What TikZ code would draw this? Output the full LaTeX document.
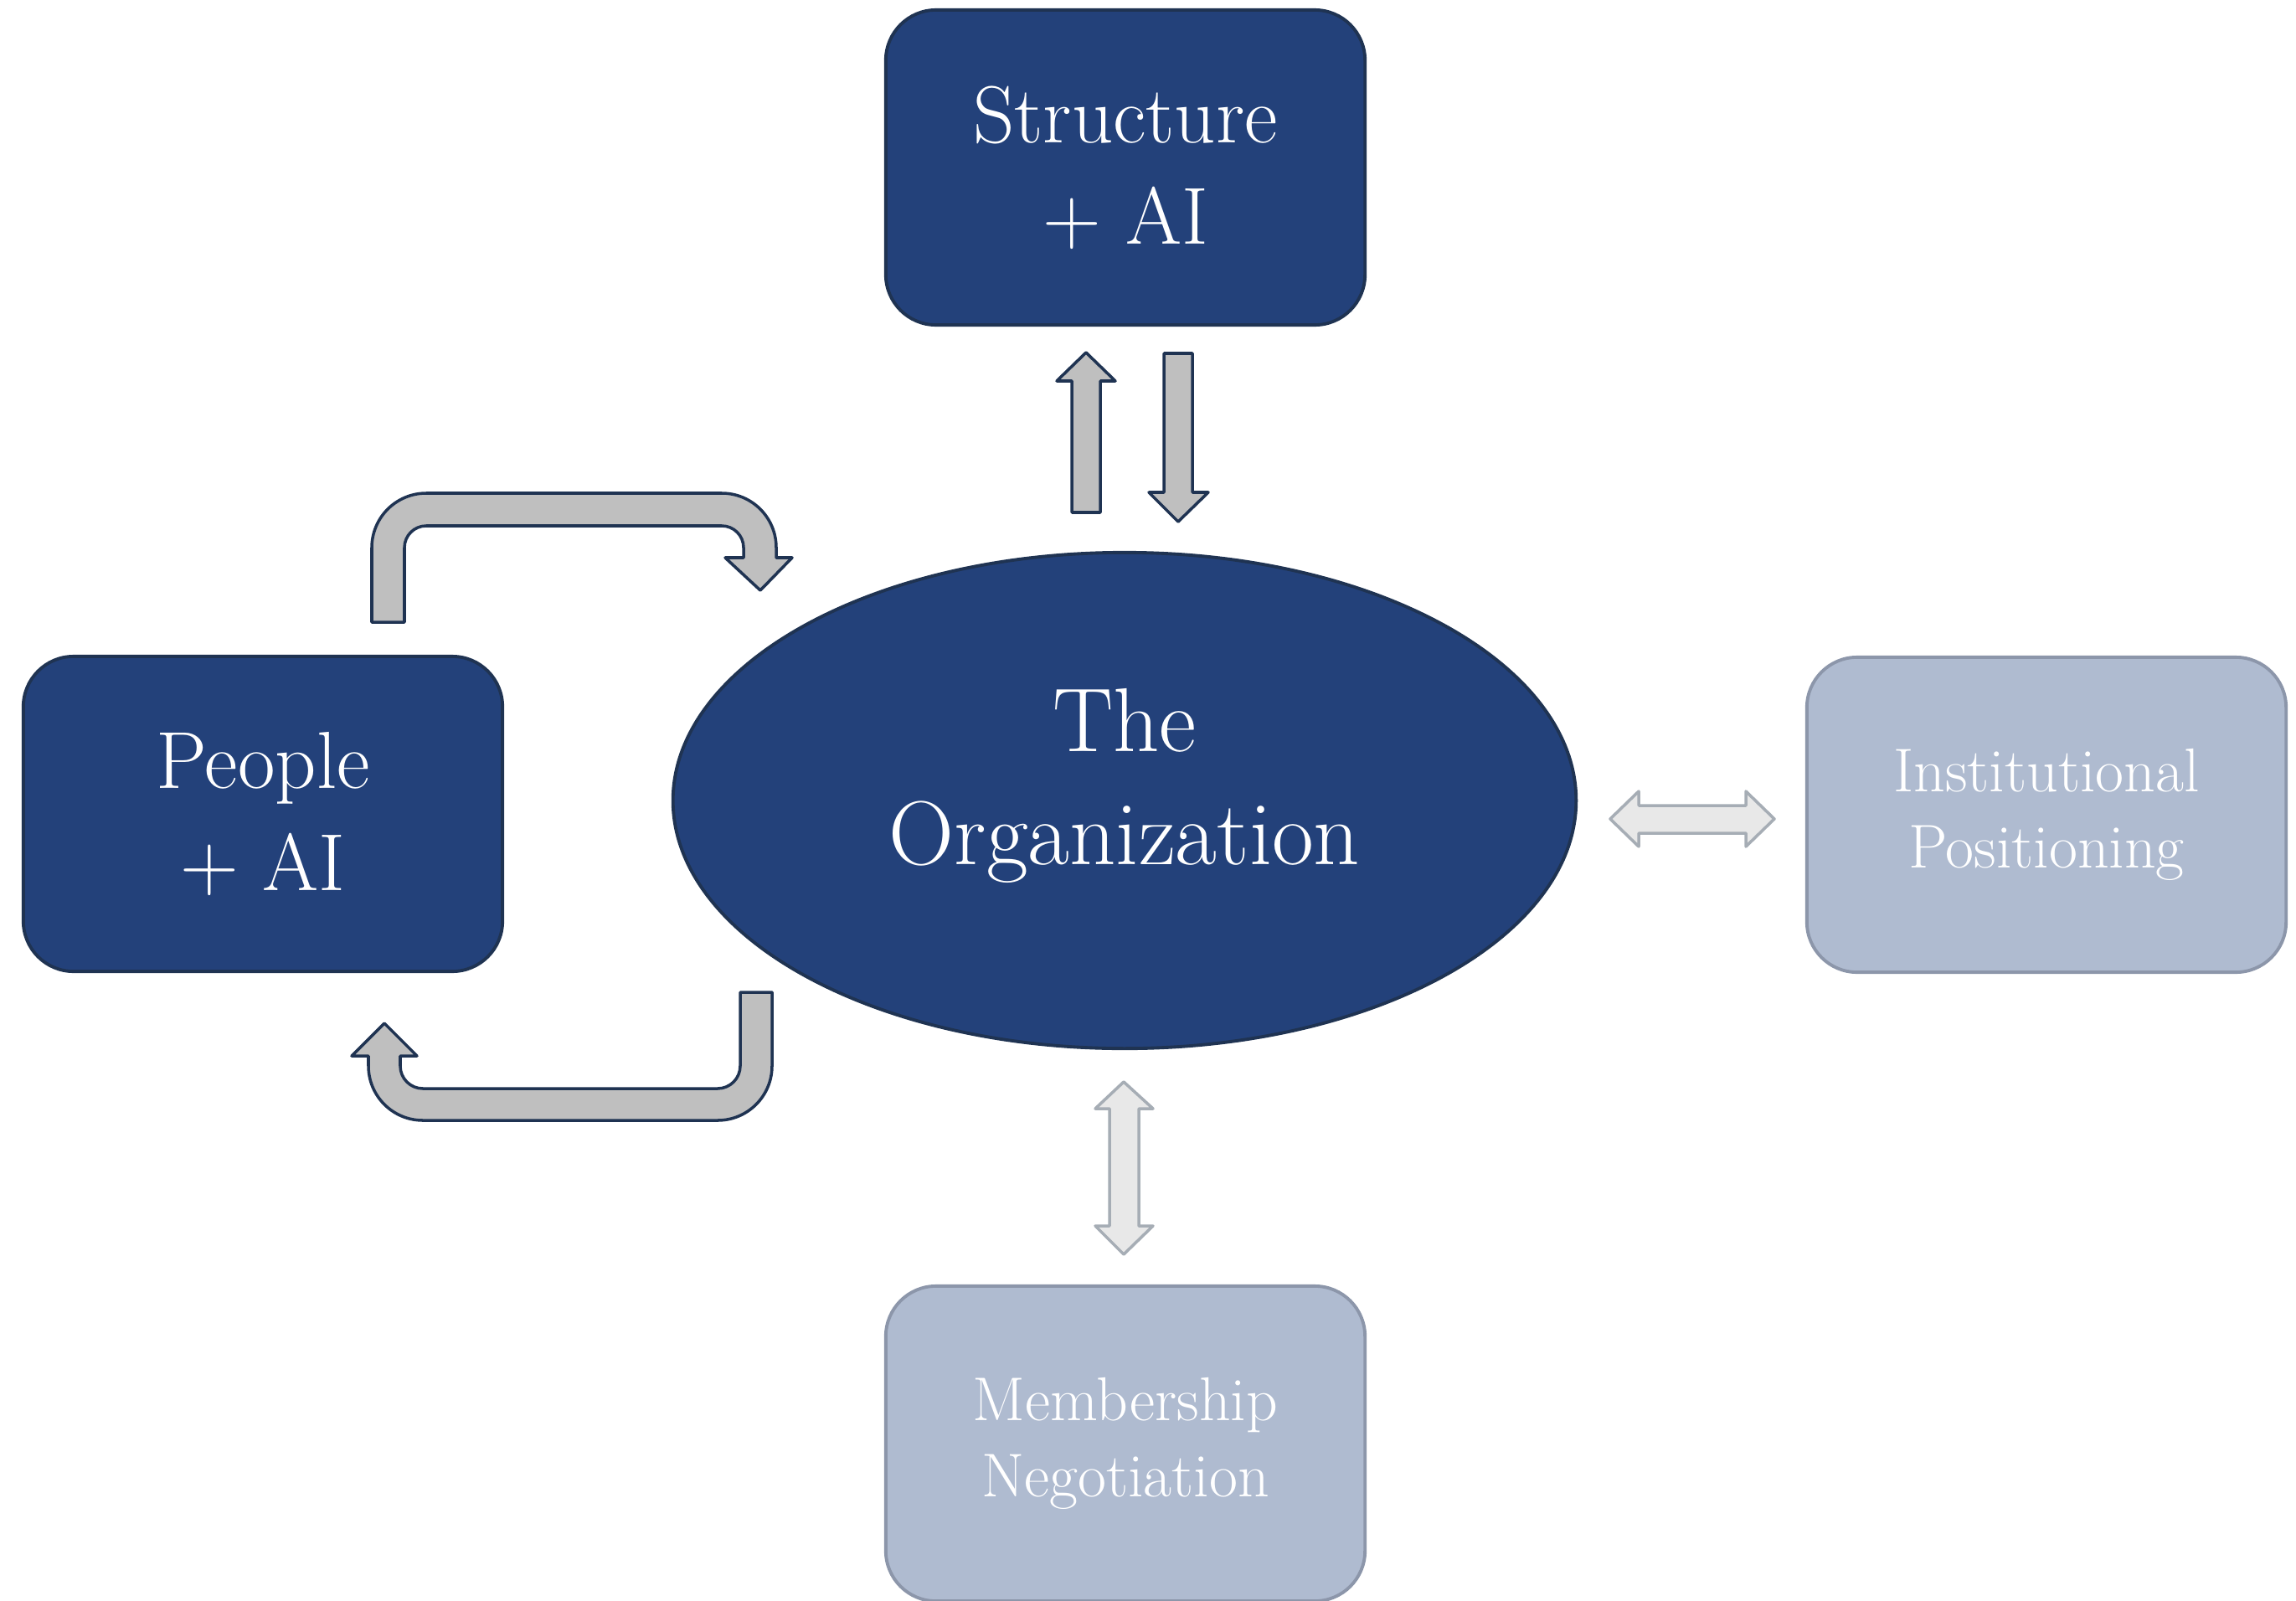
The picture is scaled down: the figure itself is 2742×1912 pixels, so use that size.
\documentclass[tikz,border=0pt]{standalone}
\usepackage{tikz}
\usetikzlibrary{shapes.geometric}
\definecolor{navy}{RGB}{35,65,122}
\definecolor{navyline}{RGB}{31,51,82}
\definecolor{paleblue}{RGB}{175,187,208}
\definecolor{palebluel}{RGB}{140,150,170}
\definecolor{arrowgray}{RGB}{191,191,191}
\definecolor{softgray}{RGB}{232,232,232}
\definecolor{softline}{RGB}{166,173,181}

\begin{document}
\begin{tikzpicture}[x=0.01cm,y=0.01cm,
  darkbox/.style={draw=navyline,fill=navy,line width=1.1pt,rounded corners=0.6cm,
    minimum width=5.72cm,minimum height=3.76cm,text=white,align=center,
    font=\fontsize{27.5}{34.5}\selectfont},
  palebox/.style={draw=palebluel,fill=paleblue,line width=1.1pt,rounded corners=0.6cm,
    minimum width=5.72cm,minimum height=3.76cm,text=white,align=center,
    font=\fontsize{21}{26}\selectfont},
  blockarrow/.style={draw=navyline,fill=arrowgray,line width=1pt,line join=round},
  softarrow/.style={draw=softline,fill=softgray,line width=1pt,line join=round}]
\useasboundingbox (0,0) rectangle (2742,-1912);
% nodes
\node[ellipse,draw=navyline,fill=navy,line width=1.1pt,inner sep=0pt,
  minimum width=10.78cm,minimum height=5.92cm,text=white,align=center,text depth=16pt,
  font=\fontsize{30.8}{38.4}\selectfont] (org) at (1343,-956) {The\\Organization};
\node[darkbox] (struct) at (1344,-200) {Structure\\+ AI};
\node[darkbox] (people) at (314,-972) {People\\+ AI};
\node[palebox] (inst) at (2444,-973) {Institutional\\Positioning};
\node[palebox] (member) at (1344,-1724) {Membership\\Negotiation};
% structure <-> organization
\draw[blockarrow] (1280,-612) -- (1280,-455) -- (1262,-455) -- (1297,-421) -- (1332,-455)
  -- (1314,-455) -- (1314,-612) -- cycle;
\draw[blockarrow] (1390,-422) -- (1424,-422) -- (1424,-588) -- (1443,-588) -- (1407,-623)
  -- (1372,-588) -- (1390,-588) -- cycle;
% people -> organization (top loop)
\draw[blockarrow] (444,-743) -- (444,-654) arc[start angle=180,end angle=90,radius=65]
  -- (862,-589) arc[start angle=90,end angle=0,radius=65]
  -- (927,-666) -- (946,-666) -- (908,-705) -- (866,-666) -- (888,-666)
  -- (888,-654) arc[start angle=0,end angle=90,radius=26]
  -- (509,-628) arc[start angle=90,end angle=180,radius=26]
  -- (483,-743) -- cycle;
% organization -> people (bottom loop)
\draw[blockarrow] (922,-1185) -- (922,-1273) arc[start angle=0,end angle=-90,radius=65]
  -- (505,-1338) arc[start angle=-90,end angle=-180,radius=65]
  -- (440,-1261) -- (420,-1261) -- (459,-1222) -- (498,-1261) -- (478,-1261)
  -- (478,-1273) arc[start angle=180,end angle=270,radius=27]
  -- (857,-1300) arc[start angle=270,end angle=360,radius=27]
  -- (884,-1185) -- cycle;
% organization <-> institutional positioning
\draw[softarrow] (1923,-978) -- (1957,-945) -- (1957,-962) -- (2085,-962) -- (2085,-945)
  -- (2119,-978) -- (2085,-1011) -- (2085,-995) -- (1957,-995) -- (1957,-1011) -- cycle;
% organization <-> membership negotiation
\draw[softarrow] (1342,-1292) -- (1377,-1324) -- (1360,-1324) -- (1360,-1464) -- (1377,-1464)
  -- (1342,-1498) -- (1308,-1464) -- (1325,-1464) -- (1325,-1324) -- (1308,-1324) -- cycle;
\end{tikzpicture}
\end{document}
